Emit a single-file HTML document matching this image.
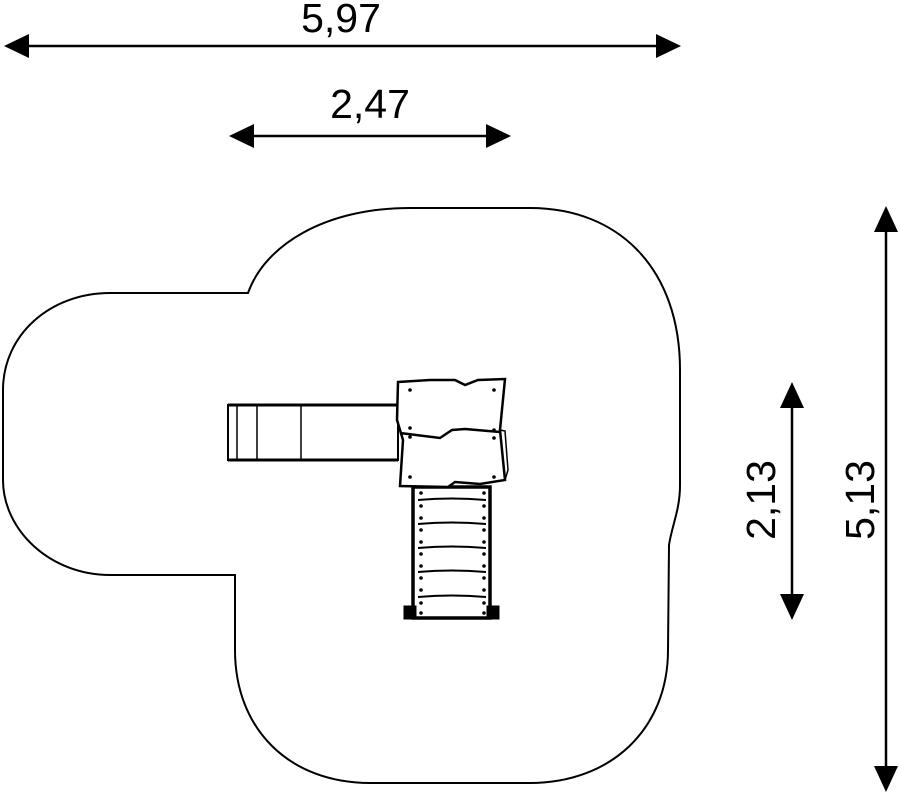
<!DOCTYPE html>
<html><head><meta charset="utf-8"><style>
html,body{margin:0;padding:0;background:#fff;}
svg{display:block;}
text{font-family:"Liberation Sans",Arial,sans-serif;font-size:41px;fill:#000;}
</style></head><body>
<svg width="901" height="793" viewBox="0 0 901 793" xmlns="http://www.w3.org/2000/svg">
<path d="M248 293 C265 245 325 208 410 208 L530 208 C620 208 680 270 680 370 L680 485 C680 510 672 525 669 545 L668 650 C668 730 610 783 530 783 L370 783 C290 783 235 730 235 650 L235 575 L110 575 C50 575 3 530 3 480 L3 390 C3 335 50 293 110 293 Z" fill="none" stroke="#000" stroke-width="2"/>
<g stroke="#000" stroke-width="2.5">
<line x1="28" y1="46" x2="656" y2="46"/>
<line x1="254" y1="136" x2="486" y2="136"/>
<line x1="886" y1="232" x2="886" y2="766"/>
<line x1="792" y1="407" x2="792" y2="596"/>
</g>
<g fill="#000">
<polygon points="4,46 29,34 29,58"/>
<polygon points="681,46 656,34 656,58"/>
<polygon points="229,136 254,124 254,148"/>
<polygon points="511,136 486,124 486,148"/>
<polygon points="886,206 874,232 898,232"/>
<polygon points="886,792 874,766 898,766"/>
<polygon points="792,382 780,408 804,408"/>
<polygon points="792,620 780,594 804,594"/>
</g>
<text x="341" y="32" text-anchor="middle">5,97</text>
<text x="370" y="118" text-anchor="middle">2,47</text>
<text transform="translate(775,500) rotate(-90)" text-anchor="middle">2,13</text>
<text transform="translate(874,500) rotate(-90)" text-anchor="middle">5,13</text>
<g fill="none" stroke="#000">
<rect x="228" y="405" width="170" height="55" stroke-width="2"/>
<line x1="228" y1="405" x2="398" y2="405" stroke-width="3"/>
<line x1="228" y1="460" x2="398" y2="460" stroke-width="3"/>
<line x1="237" y1="405" x2="237" y2="460" stroke-width="1.5"/>
<line x1="257" y1="405" x2="257" y2="460" stroke-width="1.5"/>
<line x1="301" y1="405" x2="301" y2="460" stroke-width="1.5"/>
</g>
<g stroke="#000" fill="#fff">
<rect x="413" y="487" width="77" height="131" stroke-width="3.5"/>
<rect x="404" y="606" width="12" height="13" fill="#000"/>
<rect x="487" y="606" width="12" height="13" fill="#000"/>
<g fill="none" stroke-width="2">
<path d="M418 500 Q451 497 486 500"/>
<path d="M418 524 Q451 521 486 524"/>
<path d="M418 548 Q451 545 486 548"/>
<path d="M418 572 Q451 569 486 572"/>
<path d="M418 597 Q451 594 486 597"/>
</g>
</g>
<g fill="#000">
<circle cx="421" cy="493" r="1.8"/><circle cx="484" cy="493" r="1.8"/>
<circle cx="421" cy="506" r="1.8"/><circle cx="484" cy="506" r="1.8"/>
<circle cx="421" cy="518" r="1.8"/><circle cx="484" cy="518" r="1.8"/>
<circle cx="421" cy="530" r="1.8"/><circle cx="484" cy="530" r="1.8"/>
<circle cx="421" cy="542" r="1.8"/><circle cx="484" cy="542" r="1.8"/>
<circle cx="421" cy="554" r="1.8"/><circle cx="484" cy="554" r="1.8"/>
<circle cx="421" cy="566" r="1.8"/><circle cx="484" cy="566" r="1.8"/>
<circle cx="421" cy="578" r="1.8"/><circle cx="484" cy="578" r="1.8"/>
<circle cx="421" cy="590" r="1.8"/><circle cx="484" cy="590" r="1.8"/>
<circle cx="421" cy="603" r="1.8"/><circle cx="484" cy="603" r="1.8"/>
<circle cx="421" cy="613" r="1.8"/><circle cx="484" cy="613" r="1.8"/>
</g>
<g stroke="#000" stroke-width="2.5" fill="#fff">
<path d="M398 382 L430 380 L455 380 L465 385 L478 380 L505 379 L500 430 L505 480 L480 484 L455 482 L448 487 L400 486 L403 440 L397 420 Z"/>
<path d="M500 430 L505 431 L508 470 L505 480" fill="none" stroke-width="1.5"/>
<path d="M400 433 L440 438 L452 430 L465 429 L500 432" fill="none"/>
</g>
<g fill="#000">
<circle cx="410" cy="390" r="1.8"/><circle cx="494" cy="390" r="1.8"/>
<circle cx="410" cy="428" r="1.8"/><circle cx="494" cy="430" r="1.8"/>
<circle cx="410" cy="437" r="1.8"/><circle cx="494" cy="438" r="1.8"/>
<circle cx="410" cy="477" r="1.8"/><circle cx="494" cy="477" r="1.8"/>
</g>
</svg>
</body></html>
